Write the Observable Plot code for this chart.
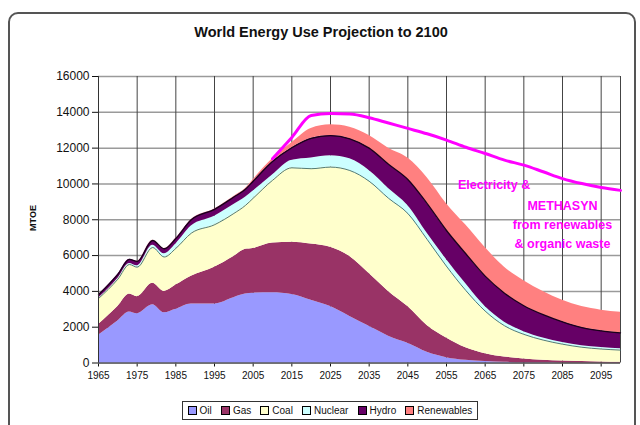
<!DOCTYPE html>
<html><head><meta charset="utf-8">
<script src="https://cdn.jsdelivr.net/npm/d3@7"></script>
<script src="https://cdn.jsdelivr.net/npm/@observablehq/plot@0.6"></script>
<style>
body{margin:0;background:#fff;font-family:"Liberation Sans",Arial,sans-serif;}
#wrap{position:relative;width:640px;height:425px;overflow:hidden;background:#fff;}
#frame{position:absolute;left:8px;top:12px;width:628px;height:440px;border:2px solid #555;border-radius:10px;box-sizing:border-box;}
#title{position:absolute;left:0;width:642px;top:24px;text-align:center;font-weight:bold;font-size:14.5px;color:#111;}
#ylab{position:absolute;left:33px;top:218px;transform:translate(-50%,-50%) rotate(-90deg);font-weight:bold;font-size:9px;color:#111;}
#chart{position:absolute;left:0;top:56px;}
#legend{position:absolute;left:182px;top:401px;width:296px;height:19px;border:1px solid #333;box-sizing:border-box;display:flex;align-items:center;justify-content:space-around;font-size:10px;color:#111;background:#fff;}
.sw{display:inline-block;width:7px;height:7px;border:1px solid #000;margin-right:3px;vertical-align:-1px;}
[aria-label="y-axis tick label"] text,[aria-label="y-axis"] text{font-size:12px;}
</style></head>
<body>
<div id="wrap">
<div id="frame"></div>
<div id="title">World Energy Use Projection to 2100</div>
<div id="ylab">MTOE</div>
<div id="chart"></div>
<div id="legend"></div>
</div>
<script>
const years = [1965,1970,1973,1975,1979,1982,1985,1989,1995,2000,2003,2005,2010,2015,2020,2025,2030,2035,2040,2045,2050,2055,2060,2065,2070,2075,2080,2085,2090,2095,2100];
const oil = [1550,2350,2850,2750,3250,2800,3000,3300,3300,3650,3850,3900,3920,3820,3500,3150,2600,2050,1500,1100,600,300,150,80,40,20,10,5,0,0,0];
const gas = [600,800,1000,950,1200,1200,1350,1550,2050,2300,2500,2500,2780,2930,3150,3320,3350,2950,2500,2050,1500,1100,700,440,290,210,150,105,80,60,40];
const coal = [1450,1530,1650,1650,2000,1920,2050,2400,2370,2400,2450,2800,3500,4150,4200,4470,4800,5150,5200,5200,4800,4000,3200,2380,1750,1370,1120,940,800,720,680];
const nuclear = [10,40,60,80,130,180,250,400,480,500,450,400,300,420,600,630,650,600,550,450,350,380,370,250,200,150,120,100,90,80,70];
const hydro = [200,230,230,240,260,280,300,350,380,420,450,550,750,700,1100,1130,1120,1250,1350,1450,1650,1620,1680,1700,1620,1450,1300,1150,1010,940,890];
const renewables = [10,10,10,10,10,10,10,15,20,30,40,80,150,280,550,600,650,700,900,1200,1450,1500,1600,1600,1450,1400,1300,1200,1170,1150,1150];

const methYears = [2010,2015,2020,2025,2030,2035,2040,2045,2050,2055,2060,2065,2070,2075,2080,2085,2090,2095,2100];
const methValues = [11400,12600,13820,13930,13900,13700,13400,13100,12800,12450,12050,11700,11330,11050,10680,10300,10020,9800,9640];

const sources = ["Oil","Gas","Coal","Nuclear","Hydro","Renewables"];
const colors = ["#9999FF","#993366","#FFFFCC","#CCFFFF","#660066","#FF8080"];
const xTicks = [1965,1975,1985,1995,2005,2015,2025,2035,2045,2055,2065,2075,2085,2095];
const yTicks = [0,2000,4000,6000,8000,10000,12000,14000,16000];

const series = [oil,gas,coal,nuclear,hydro,renewables];
const rows = years.flatMap((yr,i)=>sources.map((s,k)=>({year:yr,source:s,value:series[k][i]})));
const coalTop = years.map((yr,i)=>({year:yr,v:oil[i]+gas[i]+coal[i]}));
const hydroTop = years.map((yr,i)=>({year:yr,v:oil[i]+gas[i]+coal[i]+nuclear[i]+hydro[i]}));
const meth = methYears.map((yr,i)=>({year:yr,v:methValues[i]}));

const chart = Plot.plot({
  width:640, height:340,
  marginLeft:98, marginRight:20, marginTop:20, marginBottom:33.5,
  style:{fontFamily:"Liberation Sans, Arial, sans-serif", fontSize:"10px", color:"#111", background:"transparent"},
  x:{domain:[1965,2100], ticks:xTicks, tickFormat:d=>String(d), label:null, tickSize:4, tickPadding:5},
  y:{domain:[0,16000], ticks:yTicks, tickFormat:d=>String(d), label:null, tickSize:6, tickPadding:3},
  color:{domain:sources, range:colors},
  marks:[
    Plot.ruleY(yTicks,{stroke:"#9a9a9a", strokeWidth:1.5}),
    Plot.ruleX(xTicks.concat([2100]),{stroke:"#444", strokeWidth:1}),
    Plot.areaY(rows,{x:"year", y:"value", z:"source", fill:"source", order:sources, curve:"monotone-x"}),
    Plot.lineY(coalTop,{x:"year", y:"v", stroke:"#3d6b6b", strokeWidth:0.9, curve:"monotone-x"}),
    Plot.lineY(hydroTop,{x:"year", y:"v", stroke:"#1a001a", strokeWidth:1.3, curve:"monotone-x"}),
    Plot.lineY(meth,{x:"year", y:"v", stroke:"#FF00FF", strokeWidth:3, curve:"monotone-x"}),
    Plot.ruleY([0],{stroke:"#333", strokeWidth:1}),
    Plot.ruleX([1965],{stroke:"#333", strokeWidth:1}),
    Plot.text(["Electricity &"],{x:2067.3, y:9920, text:d=>d, fill:"#FF00FF", fontSize:12.5, fontWeight:"bold"}),
    Plot.text(["METHASYN\nfrom renewables\n& organic waste"],{x:2085, y:9280, text:d=>d, fill:"#FF00FF", fontSize:12.5, fontWeight:"bold", lineAnchor:"top", lineHeight:1.5})
  ]
});
document.getElementById("chart").appendChild(chart);

const lg = document.getElementById("legend");
sources.forEach((s,k)=>{
  const it = document.createElement("span");
  it.innerHTML = `<span class="sw" style="background:${colors[k]}"></span>${s}`;
  lg.appendChild(it);
});
</script>
</body></html>
